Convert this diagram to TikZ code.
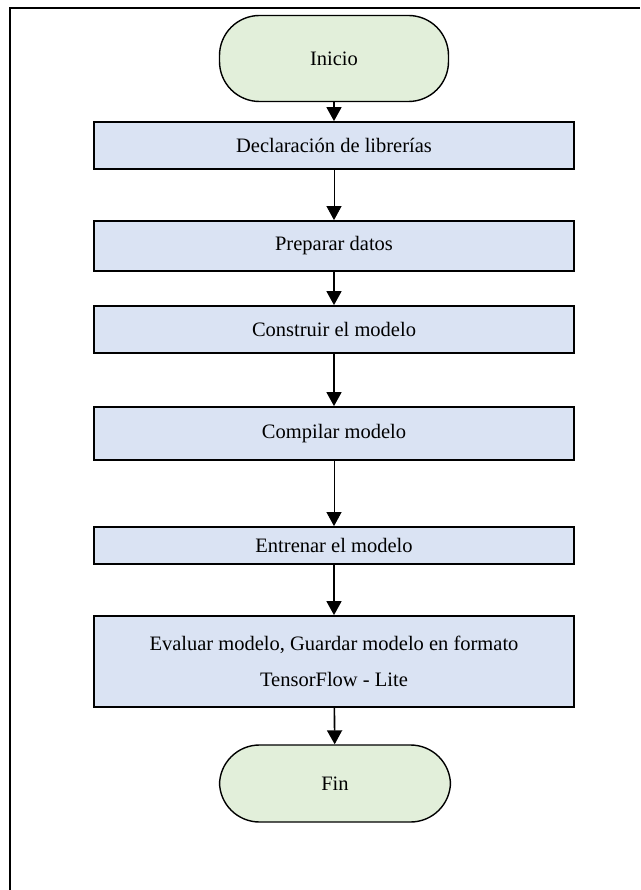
\documentclass[tikz,border=0pt]{standalone}
\usepackage{fontspec}
\setmainfont{Liberation Serif}
\usetikzlibrary{arrows.meta}
\definecolor{procfill}{HTML}{DAE3F3}
\definecolor{termfill}{HTML}{E2EFDA}
\tikzset{
  procbox/.style={draw=black, line width=1.8pt, fill=procfill, minimum width=480pt,
    inner sep=0pt, align=center, font=\fontsize{20.5}{36}\selectfont},
  termbox/.style={draw=black, line width=1.4pt, fill=termfill, rounded corners=40pt,
    inner sep=0pt, font=\fontsize{20.5}{36}\selectfont},
  flow/.style={line width=1.6pt, -{Triangle[width=15pt,length=14pt]}},
  thinflow/.style={line width=0.9pt, -{Triangle[width=15pt,length=14pt]}},
  frame/.style={line width=1.3pt}
}
\begin{document}
\begin{tikzpicture}[x=1pt,y=-1pt]
  \useasboundingbox (0,0) rectangle (640,890);
  % outer frame
  \draw[frame] (10,890) -- (10,8) -- (640,8);
  % terminals and process steps
  \node[termbox, minimum width=229pt, minimum height=86pt] (inicio) at (334,58.5) {Inicio};
  \node[procbox, minimum height=47pt] (libs) at (334,145.5) {Declaración de librerías};
  \node[procbox, minimum height=50pt] (datos) at (334,246) {Preparar datos};
  \node[procbox, minimum height=47pt] (construir) at (334,329.5) {Construir el modelo};
  \node[procbox, minimum height=53pt] (compilar) at (334,433.5) {Compilar modelo};
  \node[procbox, minimum height=37pt] (entrenar) at (334,545.5) {Entrenar el modelo};
  \node[procbox, minimum height=91pt] (evaluar) at (334,661.5) {Evaluar modelo, Guardar modelo en formato\\TensorFlow - Lite};
  \node[termbox, minimum width=231pt, minimum height=77pt] (fin) at (335,783.5) {Fin};
  % connectors
  \draw[flow] (inicio) -- (libs);
  \draw[thinflow] (libs) -- (datos);
  \draw[flow] (datos) -- (construir);
  \draw[flow] (construir) -- (compilar);
  \draw[thinflow] (compilar) -- (entrenar);
  \draw[flow] (entrenar) -- (evaluar);
  \draw[flow] (evaluar) -- (fin);
\end{tikzpicture}
\end{document}
